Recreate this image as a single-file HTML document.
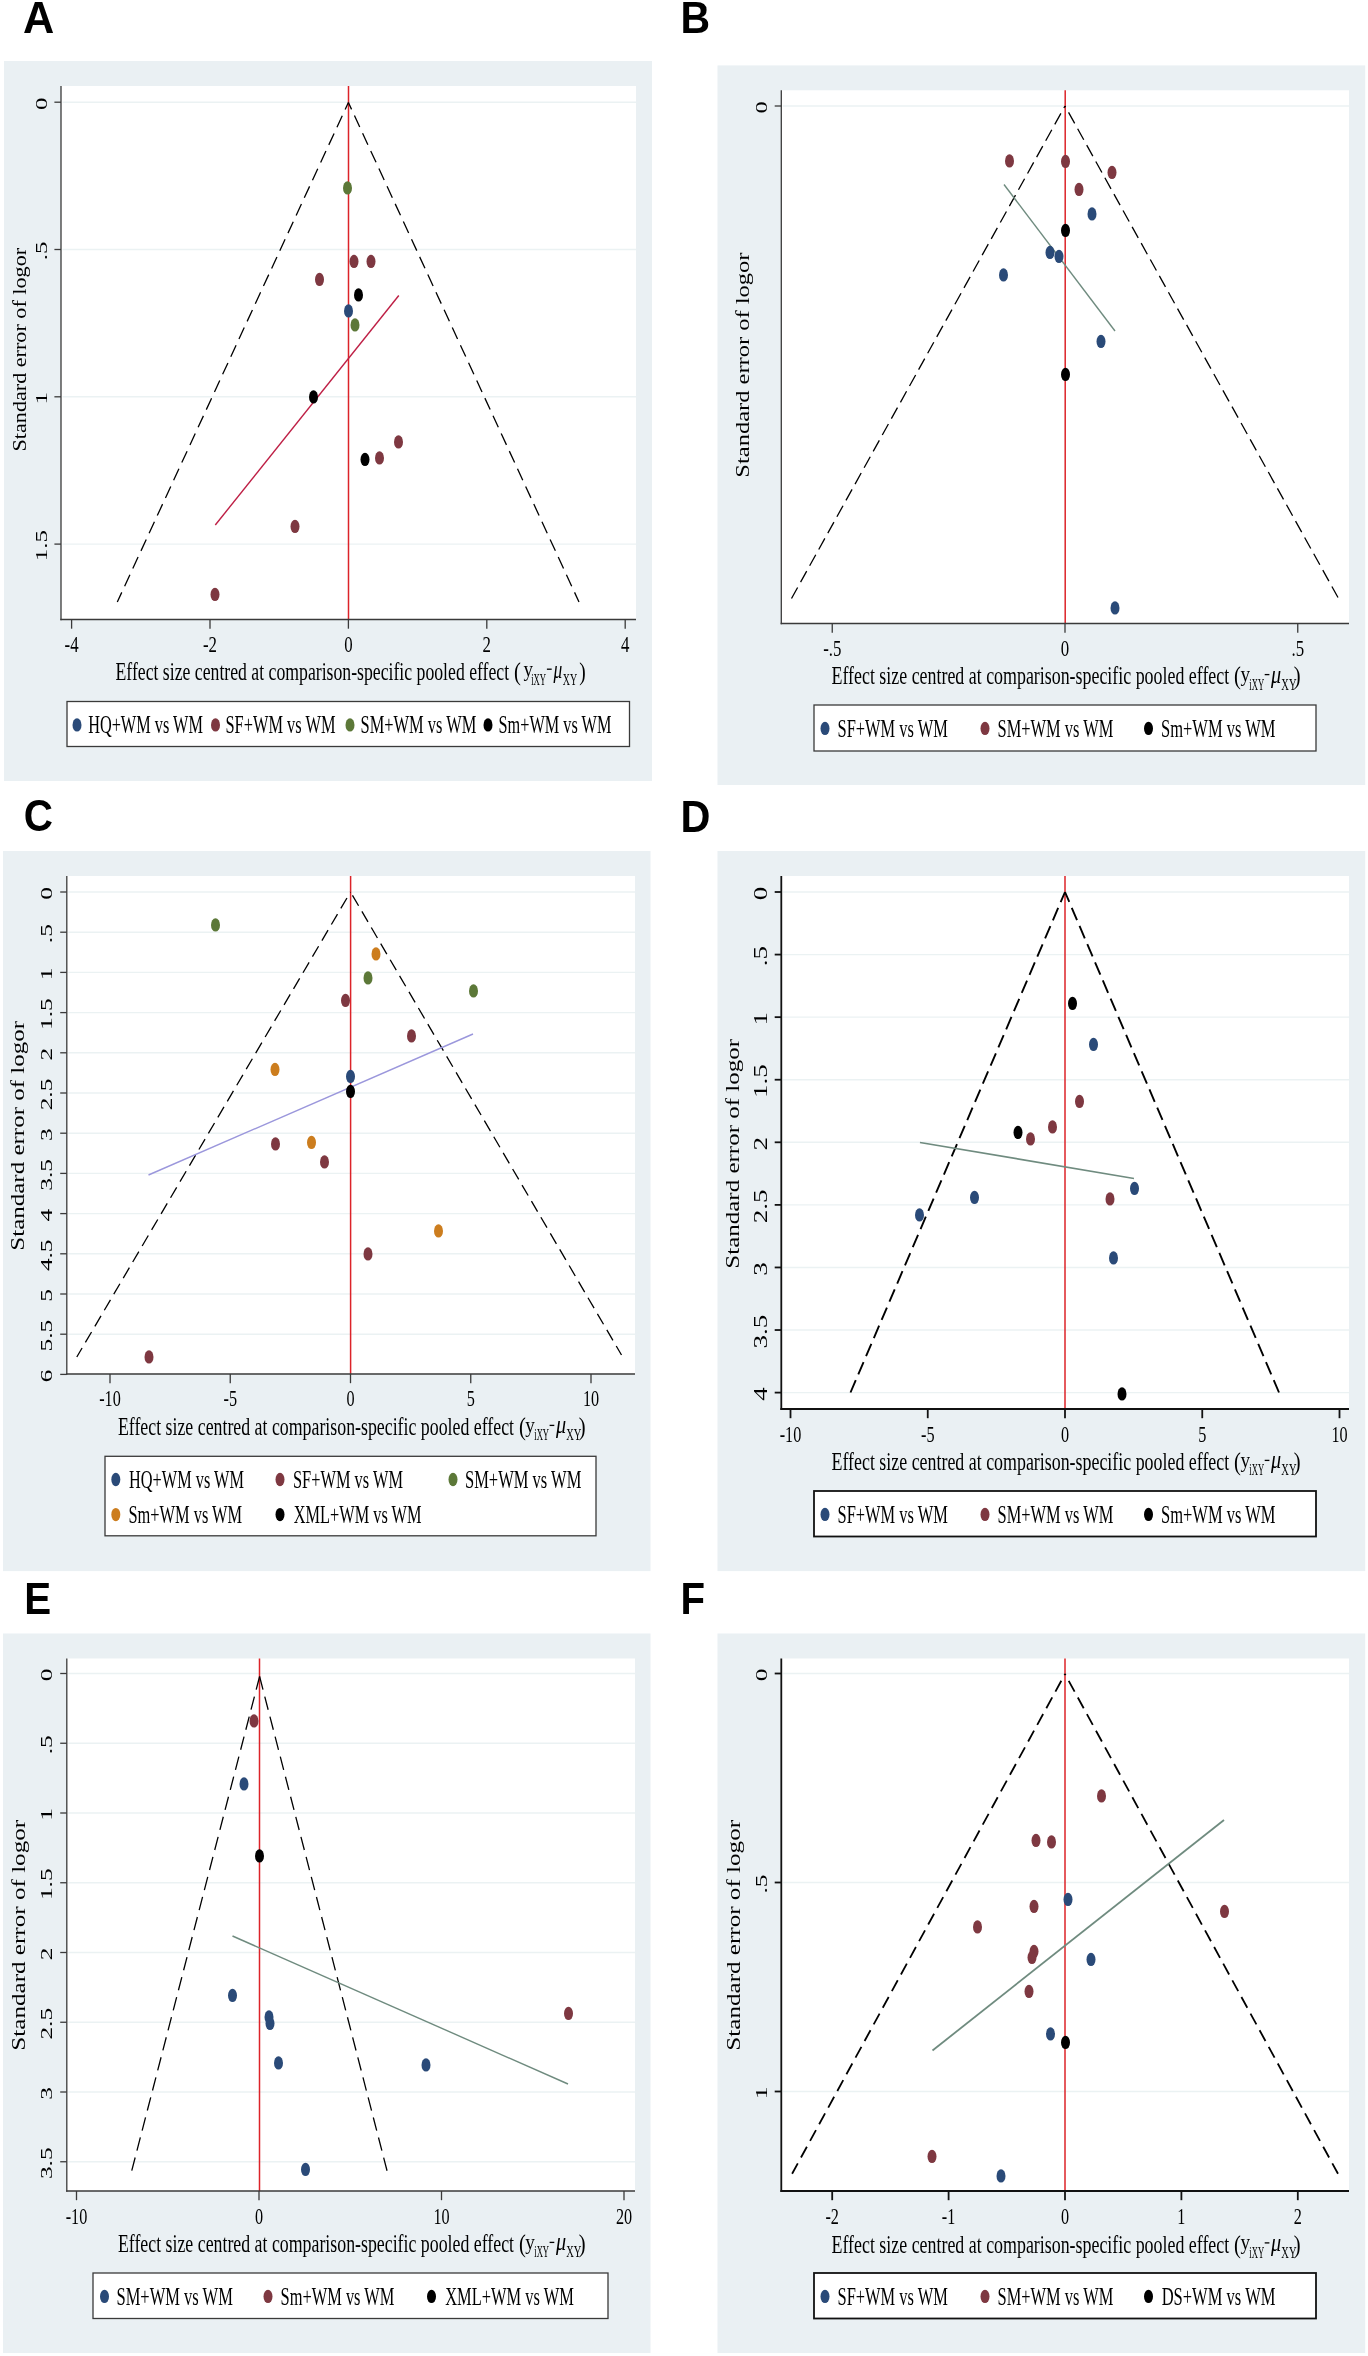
<!DOCTYPE html>
<html><head><meta charset="utf-8"><style>
html,body{margin:0;padding:0;background:#fff;}
svg{display:block;will-change:transform;}
text{font-family:"Liberation Serif",serif;}
</style></head><body>
<svg width="1368" height="2356" viewBox="0 0 1368 2356">
<rect width="1368" height="2356" fill="#fff"/>
<rect x="4" y="61" width="648" height="720" fill="#eaf0f3"/>
<rect x="61" y="86" width="575" height="533.5" fill="#fff"/>
<line x1="62.50" y1="102.20" x2="636.00" y2="102.20" stroke="#ebf2f3" stroke-width="1.4" stroke-linecap="butt"/>
<line x1="62.50" y1="249.50" x2="636.00" y2="249.50" stroke="#ebf2f3" stroke-width="1.4" stroke-linecap="butt"/>
<line x1="62.50" y1="396.80" x2="636.00" y2="396.80" stroke="#ebf2f3" stroke-width="1.4" stroke-linecap="butt"/>
<line x1="62.50" y1="544.10" x2="636.00" y2="544.10" stroke="#ebf2f3" stroke-width="1.4" stroke-linecap="butt"/>
<line x1="348.50" y1="86.00" x2="348.50" y2="619.50" stroke="#dc2329" stroke-width="1.5" stroke-linecap="butt"/>
<path d="M117.30,602.00 L348.40,102.50" stroke="#000" stroke-width="1.3" stroke-dasharray="12.6 6.85" stroke-dashoffset="2" fill="none"/>
<path d="M579.00,602.00 L348.40,102.50" stroke="#000" stroke-width="1.3" stroke-dasharray="12.6 6.85" stroke-dashoffset="2" fill="none"/>
<line x1="215.30" y1="525.00" x2="398.80" y2="295.50" stroke="#be1f45" stroke-width="1.4" stroke-linecap="butt"/>
<ellipse cx="347.50" cy="187.90" rx="4.5" ry="6.7" fill="#5c7838"/>
<ellipse cx="354.00" cy="261.40" rx="4.5" ry="6.7" fill="#7e3841"/>
<ellipse cx="371.00" cy="261.40" rx="4.5" ry="6.7" fill="#7e3841"/>
<ellipse cx="319.50" cy="279.40" rx="4.5" ry="6.7" fill="#7e3841"/>
<ellipse cx="358.50" cy="294.90" rx="4.5" ry="6.7" fill="#000000"/>
<ellipse cx="348.50" cy="310.90" rx="4.5" ry="6.7" fill="#2a4a78"/>
<ellipse cx="355.00" cy="324.90" rx="4.5" ry="6.7" fill="#5c7838"/>
<ellipse cx="313.50" cy="396.90" rx="4.5" ry="6.7" fill="#000000"/>
<ellipse cx="398.50" cy="441.90" rx="4.5" ry="6.7" fill="#7e3841"/>
<ellipse cx="379.50" cy="457.90" rx="4.5" ry="6.7" fill="#7e3841"/>
<ellipse cx="365.00" cy="459.40" rx="4.5" ry="6.7" fill="#000000"/>
<ellipse cx="295.00" cy="526.40" rx="4.5" ry="6.7" fill="#7e3841"/>
<ellipse cx="215.00" cy="594.40" rx="4.5" ry="6.7" fill="#7e3841"/>
<line x1="61.00" y1="86.00" x2="61.00" y2="620.15" stroke="#3a3a3a" stroke-width="1.3" stroke-linecap="butt"/>
<line x1="60.35" y1="619.50" x2="636.00" y2="619.50" stroke="#3a3a3a" stroke-width="1.3" stroke-linecap="butt"/>
<line x1="54.40" y1="102.20" x2="61.00" y2="102.20" stroke="#3a3a3a" stroke-width="1.3" stroke-linecap="butt"/>
<line x1="54.40" y1="249.50" x2="61.00" y2="249.50" stroke="#3a3a3a" stroke-width="1.3" stroke-linecap="butt"/>
<line x1="54.40" y1="396.80" x2="61.00" y2="396.80" stroke="#3a3a3a" stroke-width="1.3" stroke-linecap="butt"/>
<line x1="54.40" y1="544.10" x2="61.00" y2="544.10" stroke="#3a3a3a" stroke-width="1.3" stroke-linecap="butt"/>
<line x1="71.60" y1="619.50" x2="71.60" y2="628.70" stroke="#3a3a3a" stroke-width="1.3" stroke-linecap="butt"/>
<line x1="210.00" y1="619.50" x2="210.00" y2="628.70" stroke="#3a3a3a" stroke-width="1.3" stroke-linecap="butt"/>
<line x1="348.40" y1="619.50" x2="348.40" y2="628.70" stroke="#3a3a3a" stroke-width="1.3" stroke-linecap="butt"/>
<line x1="486.80" y1="619.50" x2="486.80" y2="628.70" stroke="#3a3a3a" stroke-width="1.3" stroke-linecap="butt"/>
<line x1="625.20" y1="619.50" x2="625.20" y2="628.70" stroke="#3a3a3a" stroke-width="1.3" stroke-linecap="butt"/>
<text transform="translate(47.00,109.91) rotate(-90) scale(1.4500,1)" font-size="17.14">0</text>
<text transform="translate(47.00,260.32) rotate(-90) scale(1.4500,1)" font-size="17.14">.5</text>
<text transform="translate(47.00,404.51) rotate(-90) scale(1.4500,1)" font-size="17.14">1</text>
<text transform="translate(47.00,561.14) rotate(-90) scale(1.4500,1)" font-size="17.14">1.5</text>
<text transform="translate(64.59,652.00) scale(0.7000,1)" font-size="24.06">-4</text>
<text transform="translate(202.99,652.00) scale(0.7000,1)" font-size="24.06">-2</text>
<text transform="translate(344.19,652.00) scale(0.7000,1)" font-size="24.06">0</text>
<text transform="translate(482.59,652.00) scale(0.7000,1)" font-size="24.06">2</text>
<text transform="translate(620.99,652.00) scale(0.7000,1)" font-size="24.06">4</text>
<text transform="translate(115.51,680.00) scale(0.7164,1)" font-size="24.73" style="font-family:'Liberation Serif'" fill="#000">Effect size centred at comparison-specific pooled effect</text>
<text transform="translate(514.03,680.08) scale(0.8376,1)" font-size="24.57" style="font-family:'Liberation Serif'">(</text>
<text transform="translate(523.46,675.88) scale(0.8830,1)" font-size="21.48" style="font-family:'Liberation Serif'">y</text>
<text transform="translate(531.13,685.30) scale(0.5148,1)" font-size="16.91" style="font-family:'Liberation Serif'">iXY</text>
<rect x="546.90" y="668.55" width="4.80" height="1.3" fill="#000"/>
<text transform="translate(553.50,678.46) scale(0.6768,1)" font-size="25.78" style="font-family:'Liberation Serif'" font-style="italic">μ</text>
<text transform="translate(562.67,685.30) scale(0.5859,1)" font-size="17.10" style="font-family:'Liberation Serif'">XY</text>
<text transform="translate(579.27,680.08) scale(0.7902,1)" font-size="24.57" style="font-family:'Liberation Serif'">)</text>
<text transform="translate(26.00,451.50) rotate(-90) scale(1.1801,1)" font-size="18.78">Standard error of logor</text>
<rect x="67" y="701.5" width="562.5" height="45.0" fill="#fff" stroke="#3a3a3a" stroke-width="1.3"/>
<ellipse cx="77.00" cy="724.90" rx="4.5" ry="6.7" fill="#2a4a78"/>
<text transform="translate(88.15,733.10) scale(0.6353,1)" font-size="25.65" style="font-family:'Liberation Serif'" fill="#000">HQ+WM vs WM</text>
<ellipse cx="215.50" cy="724.90" rx="4.5" ry="6.7" fill="#7e3841"/>
<text transform="translate(225.49,733.10) scale(0.6387,1)" font-size="25.65" style="font-family:'Liberation Serif'" fill="#000">SF+WM vs WM</text>
<ellipse cx="350.00" cy="724.90" rx="4.5" ry="6.7" fill="#5c7838"/>
<text transform="translate(360.49,733.10) scale(0.6418,1)" font-size="25.65" style="font-family:'Liberation Serif'" fill="#000">SM+WM vs WM</text>
<ellipse cx="488.00" cy="724.90" rx="4.5" ry="6.7" fill="#000000"/>
<text transform="translate(498.50,733.10) scale(0.6352,1)" font-size="25.65" style="font-family:'Liberation Serif'" fill="#000">Sm+WM vs WM</text>
<text transform="translate(22.92,33.10) scale(0.9662,1)" font-size="44.80" style="font-family:'Liberation Sans'" font-weight="bold">A</text>
<rect x="717.5" y="65.4" width="647.7" height="719.6" fill="#eaf0f3"/>
<rect x="781.3" y="90.3" width="567.7" height="533.2" fill="#fff"/>
<line x1="782.80" y1="106.00" x2="1349.00" y2="106.00" stroke="#ebf2f3" stroke-width="1.4" stroke-linecap="butt"/>
<line x1="1065.20" y1="90.30" x2="1065.20" y2="623.50" stroke="#dc2329" stroke-width="1.5" stroke-linecap="butt"/>
<path d="M791.50,598.50 L1065.00,106.00" stroke="#000" stroke-width="1.3" stroke-dasharray="12.6 6.1" stroke-dashoffset="0" fill="none"/>
<path d="M1338.00,597.50 L1065.00,106.00" stroke="#000" stroke-width="1.3" stroke-dasharray="12.6 6.1" stroke-dashoffset="0" fill="none"/>
<line x1="1004.00" y1="184.50" x2="1115.00" y2="331.00" stroke="#6f8b7f" stroke-width="1.4" stroke-linecap="butt"/>
<ellipse cx="1009.50" cy="160.90" rx="4.5" ry="6.7" fill="#7e3841"/>
<ellipse cx="1065.50" cy="161.40" rx="4.5" ry="6.7" fill="#7e3841"/>
<ellipse cx="1112.00" cy="172.40" rx="4.5" ry="6.7" fill="#7e3841"/>
<ellipse cx="1079.00" cy="189.40" rx="4.5" ry="6.7" fill="#7e3841"/>
<ellipse cx="1092.00" cy="213.90" rx="4.5" ry="6.7" fill="#2a4a78"/>
<ellipse cx="1065.50" cy="230.40" rx="4.5" ry="6.7" fill="#000000"/>
<ellipse cx="1050.00" cy="252.40" rx="4.5" ry="6.7" fill="#2a4a78"/>
<ellipse cx="1059.00" cy="256.40" rx="4.5" ry="6.7" fill="#2a4a78"/>
<ellipse cx="1003.50" cy="274.90" rx="4.5" ry="6.7" fill="#2a4a78"/>
<ellipse cx="1101.00" cy="341.40" rx="4.5" ry="6.7" fill="#2a4a78"/>
<ellipse cx="1065.50" cy="374.40" rx="4.5" ry="6.7" fill="#000000"/>
<ellipse cx="1115.00" cy="607.90" rx="4.5" ry="6.7" fill="#2a4a78"/>
<line x1="781.30" y1="90.30" x2="781.30" y2="624.15" stroke="#3a3a3a" stroke-width="1.3" stroke-linecap="butt"/>
<line x1="780.65" y1="623.50" x2="1349.00" y2="623.50" stroke="#3a3a3a" stroke-width="1.3" stroke-linecap="butt"/>
<line x1="774.70" y1="106.00" x2="781.30" y2="106.00" stroke="#3a3a3a" stroke-width="1.3" stroke-linecap="butt"/>
<line x1="832.25" y1="623.50" x2="832.25" y2="632.70" stroke="#3a3a3a" stroke-width="1.3" stroke-linecap="butt"/>
<line x1="1065.00" y1="623.50" x2="1065.00" y2="632.70" stroke="#3a3a3a" stroke-width="1.3" stroke-linecap="butt"/>
<line x1="1297.75" y1="623.50" x2="1297.75" y2="632.70" stroke="#3a3a3a" stroke-width="1.3" stroke-linecap="butt"/>
<text transform="translate(766.70,113.61) rotate(-90) scale(1.4500,1)" font-size="16.84">0</text>
<text transform="translate(823.13,656.00) scale(0.7000,1)" font-size="24.06">-.5</text>
<text transform="translate(1060.79,656.00) scale(0.7000,1)" font-size="24.06">0</text>
<text transform="translate(1291.43,656.00) scale(0.7000,1)" font-size="24.06">.5</text>
<text transform="translate(831.51,684.20) scale(0.7237,1)" font-size="24.73" style="font-family:'Liberation Serif'" fill="#000">Effect size centred at comparison-specific pooled effect</text>
<text transform="translate(1234.03,684.28) scale(0.8376,1)" font-size="24.57" style="font-family:'Liberation Serif'">(</text>
<text transform="translate(1240.46,680.91) scale(0.9180,1)" font-size="20.89" style="font-family:'Liberation Serif'">y</text>
<text transform="translate(1249.33,689.50) scale(0.5113,1)" font-size="16.91" style="font-family:'Liberation Serif'">iXY</text>
<rect x="1264.70" y="673.95" width="4.70" height="1.3" fill="#000"/>
<text transform="translate(1271.00,682.66) scale(0.7841,1)" font-size="25.78" style="font-family:'Liberation Serif'" font-style="italic">μ</text>
<text transform="translate(1281.36,689.50) scale(0.6152,1)" font-size="17.10" style="font-family:'Liberation Serif'">XY</text>
<text transform="translate(1293.83,684.28) scale(0.8376,1)" font-size="24.57" style="font-family:'Liberation Serif'">)</text>
<text transform="translate(749.30,477.66) rotate(-90) scale(1.2848,1)" font-size="19.08">Standard error of logor</text>
<rect x="814" y="705" width="502" height="46" fill="#fff" stroke="#3a3a3a" stroke-width="1.3"/>
<ellipse cx="825.00" cy="728.40" rx="4.5" ry="6.7" fill="#2a4a78"/>
<text transform="translate(837.49,736.60) scale(0.6416,1)" font-size="25.65" style="font-family:'Liberation Serif'" fill="#000">SF+WM vs WM</text>
<ellipse cx="985.00" cy="728.40" rx="4.5" ry="6.7" fill="#7e3841"/>
<text transform="translate(997.49,736.60) scale(0.6418,1)" font-size="25.65" style="font-family:'Liberation Serif'" fill="#000">SM+WM vs WM</text>
<ellipse cx="1148.50" cy="728.40" rx="4.5" ry="6.7" fill="#000000"/>
<text transform="translate(1160.99,736.60) scale(0.6438,1)" font-size="25.65" style="font-family:'Liberation Serif'" fill="#000">Sm+WM vs WM</text>
<text transform="translate(680.43,32.70) scale(0.9299,1)" font-size="44.07" style="font-family:'Liberation Sans'" font-weight="bold">B</text>
<rect x="3" y="851" width="647.5" height="720.0999999999999" fill="#eaf0f3"/>
<rect x="66.8" y="876" width="568.2" height="498" fill="#fff"/>
<line x1="68.30" y1="892.00" x2="635.00" y2="892.00" stroke="#ebf2f3" stroke-width="1.4" stroke-linecap="butt"/>
<line x1="68.30" y1="932.20" x2="635.00" y2="932.20" stroke="#ebf2f3" stroke-width="1.4" stroke-linecap="butt"/>
<line x1="68.30" y1="972.40" x2="635.00" y2="972.40" stroke="#ebf2f3" stroke-width="1.4" stroke-linecap="butt"/>
<line x1="68.30" y1="1012.60" x2="635.00" y2="1012.60" stroke="#ebf2f3" stroke-width="1.4" stroke-linecap="butt"/>
<line x1="68.30" y1="1052.80" x2="635.00" y2="1052.80" stroke="#ebf2f3" stroke-width="1.4" stroke-linecap="butt"/>
<line x1="68.30" y1="1093.00" x2="635.00" y2="1093.00" stroke="#ebf2f3" stroke-width="1.4" stroke-linecap="butt"/>
<line x1="68.30" y1="1133.20" x2="635.00" y2="1133.20" stroke="#ebf2f3" stroke-width="1.4" stroke-linecap="butt"/>
<line x1="68.30" y1="1173.40" x2="635.00" y2="1173.40" stroke="#ebf2f3" stroke-width="1.4" stroke-linecap="butt"/>
<line x1="68.30" y1="1213.60" x2="635.00" y2="1213.60" stroke="#ebf2f3" stroke-width="1.4" stroke-linecap="butt"/>
<line x1="68.30" y1="1253.80" x2="635.00" y2="1253.80" stroke="#ebf2f3" stroke-width="1.4" stroke-linecap="butt"/>
<line x1="68.30" y1="1294.00" x2="635.00" y2="1294.00" stroke="#ebf2f3" stroke-width="1.4" stroke-linecap="butt"/>
<line x1="68.30" y1="1334.20" x2="635.00" y2="1334.20" stroke="#ebf2f3" stroke-width="1.4" stroke-linecap="butt"/>
<line x1="68.30" y1="1374.40" x2="635.00" y2="1374.40" stroke="#ebf2f3" stroke-width="1.4" stroke-linecap="butt"/>
<line x1="350.60" y1="876.00" x2="350.60" y2="1374.00" stroke="#dc2329" stroke-width="1.5" stroke-linecap="butt"/>
<path d="M76.80,1357.00 L350.50,892.00" stroke="#000" stroke-width="1.3" stroke-dasharray="12.1 6.55" stroke-dashoffset="1.7" fill="none"/>
<path d="M621.50,1355.00 L350.50,892.00" stroke="#000" stroke-width="1.3" stroke-dasharray="12.1 6.55" stroke-dashoffset="1.7" fill="none"/>
<line x1="148.50" y1="1175.00" x2="473.00" y2="1034.00" stroke="#9b97dc" stroke-width="1.4" stroke-linecap="butt"/>
<ellipse cx="215.50" cy="924.90" rx="4.5" ry="6.7" fill="#5c7838"/>
<ellipse cx="376.00" cy="953.90" rx="4.5" ry="6.7" fill="#cc7d1e"/>
<ellipse cx="368.00" cy="977.90" rx="4.5" ry="6.7" fill="#5c7838"/>
<ellipse cx="473.50" cy="990.90" rx="4.5" ry="6.7" fill="#5c7838"/>
<ellipse cx="345.50" cy="1000.40" rx="4.5" ry="6.7" fill="#7e3841"/>
<ellipse cx="411.50" cy="1035.90" rx="4.5" ry="6.7" fill="#7e3841"/>
<ellipse cx="275.00" cy="1069.40" rx="4.5" ry="6.7" fill="#cc7d1e"/>
<ellipse cx="350.50" cy="1076.40" rx="4.5" ry="6.7" fill="#2a4a78"/>
<ellipse cx="350.50" cy="1091.40" rx="4.5" ry="6.7" fill="#000000"/>
<ellipse cx="275.50" cy="1143.90" rx="4.5" ry="6.7" fill="#7e3841"/>
<ellipse cx="311.50" cy="1142.40" rx="4.5" ry="6.7" fill="#cc7d1e"/>
<ellipse cx="324.50" cy="1161.90" rx="4.5" ry="6.7" fill="#7e3841"/>
<ellipse cx="368.00" cy="1253.90" rx="4.5" ry="6.7" fill="#7e3841"/>
<ellipse cx="438.50" cy="1230.90" rx="4.5" ry="6.7" fill="#cc7d1e"/>
<ellipse cx="149.00" cy="1356.90" rx="4.5" ry="6.7" fill="#7e3841"/>
<line x1="66.80" y1="876.00" x2="66.80" y2="1374.65" stroke="#3a3a3a" stroke-width="1.3" stroke-linecap="butt"/>
<line x1="66.15" y1="1374.00" x2="635.00" y2="1374.00" stroke="#3a3a3a" stroke-width="1.3" stroke-linecap="butt"/>
<line x1="60.20" y1="892.00" x2="66.80" y2="892.00" stroke="#3a3a3a" stroke-width="1.3" stroke-linecap="butt"/>
<line x1="60.20" y1="932.20" x2="66.80" y2="932.20" stroke="#3a3a3a" stroke-width="1.3" stroke-linecap="butt"/>
<line x1="60.20" y1="972.40" x2="66.80" y2="972.40" stroke="#3a3a3a" stroke-width="1.3" stroke-linecap="butt"/>
<line x1="60.20" y1="1012.60" x2="66.80" y2="1012.60" stroke="#3a3a3a" stroke-width="1.3" stroke-linecap="butt"/>
<line x1="60.20" y1="1052.80" x2="66.80" y2="1052.80" stroke="#3a3a3a" stroke-width="1.3" stroke-linecap="butt"/>
<line x1="60.20" y1="1093.00" x2="66.80" y2="1093.00" stroke="#3a3a3a" stroke-width="1.3" stroke-linecap="butt"/>
<line x1="60.20" y1="1133.20" x2="66.80" y2="1133.20" stroke="#3a3a3a" stroke-width="1.3" stroke-linecap="butt"/>
<line x1="60.20" y1="1173.40" x2="66.80" y2="1173.40" stroke="#3a3a3a" stroke-width="1.3" stroke-linecap="butt"/>
<line x1="60.20" y1="1213.60" x2="66.80" y2="1213.60" stroke="#3a3a3a" stroke-width="1.3" stroke-linecap="butt"/>
<line x1="60.20" y1="1253.80" x2="66.80" y2="1253.80" stroke="#3a3a3a" stroke-width="1.3" stroke-linecap="butt"/>
<line x1="60.20" y1="1294.00" x2="66.80" y2="1294.00" stroke="#3a3a3a" stroke-width="1.3" stroke-linecap="butt"/>
<line x1="60.20" y1="1334.20" x2="66.80" y2="1334.20" stroke="#3a3a3a" stroke-width="1.3" stroke-linecap="butt"/>
<line x1="60.20" y1="1374.40" x2="66.80" y2="1374.40" stroke="#3a3a3a" stroke-width="1.3" stroke-linecap="butt"/>
<line x1="110.00" y1="1374.00" x2="110.00" y2="1383.20" stroke="#3a3a3a" stroke-width="1.3" stroke-linecap="butt"/>
<line x1="230.25" y1="1374.00" x2="230.25" y2="1383.20" stroke="#3a3a3a" stroke-width="1.3" stroke-linecap="butt"/>
<line x1="350.50" y1="1374.00" x2="350.50" y2="1383.20" stroke="#3a3a3a" stroke-width="1.3" stroke-linecap="butt"/>
<line x1="470.75" y1="1374.00" x2="470.75" y2="1383.20" stroke="#3a3a3a" stroke-width="1.3" stroke-linecap="butt"/>
<line x1="591.00" y1="1374.00" x2="591.00" y2="1383.20" stroke="#3a3a3a" stroke-width="1.3" stroke-linecap="butt"/>
<text transform="translate(52.00,899.82) rotate(-90) scale(1.4500,1)" font-size="17.44">0</text>
<text transform="translate(52.00,943.18) rotate(-90) scale(1.4500,1)" font-size="17.44">.5</text>
<text transform="translate(52.00,980.22) rotate(-90) scale(1.4500,1)" font-size="17.44">1</text>
<text transform="translate(52.00,1029.91) rotate(-90) scale(1.4500,1)" font-size="17.44">1.5</text>
<text transform="translate(52.00,1060.62) rotate(-90) scale(1.4500,1)" font-size="17.44">2</text>
<text transform="translate(52.00,1110.31) rotate(-90) scale(1.4500,1)" font-size="17.44">2.5</text>
<text transform="translate(52.00,1141.02) rotate(-90) scale(1.4500,1)" font-size="17.44">3</text>
<text transform="translate(52.00,1190.71) rotate(-90) scale(1.4500,1)" font-size="17.44">3.5</text>
<text transform="translate(52.00,1221.42) rotate(-90) scale(1.4500,1)" font-size="17.44">4</text>
<text transform="translate(52.00,1271.11) rotate(-90) scale(1.4500,1)" font-size="17.44">4.5</text>
<text transform="translate(52.00,1301.82) rotate(-90) scale(1.4500,1)" font-size="17.44">5</text>
<text transform="translate(52.00,1351.51) rotate(-90) scale(1.4500,1)" font-size="17.44">5.5</text>
<text transform="translate(52.00,1382.22) rotate(-90) scale(1.4500,1)" font-size="17.44">6</text>
<text transform="translate(99.20,1406.30) scale(0.7000,1)" font-size="23.16">-10</text>
<text transform="translate(223.50,1406.30) scale(0.7000,1)" font-size="23.16">-5</text>
<text transform="translate(346.45,1406.30) scale(0.7000,1)" font-size="23.16">0</text>
<text transform="translate(466.70,1406.30) scale(0.7000,1)" font-size="23.16">5</text>
<text transform="translate(582.89,1406.30) scale(0.7000,1)" font-size="23.16">10</text>
<text transform="translate(117.91,1435.00) scale(0.7209,1)" font-size="24.73" style="font-family:'Liberation Serif'" fill="#000">Effect size centred at comparison-specific pooled effect</text>
<text transform="translate(518.93,1435.08) scale(0.8376,1)" font-size="24.57" style="font-family:'Liberation Serif'">(</text>
<text transform="translate(525.36,1431.71) scale(0.9180,1)" font-size="20.89" style="font-family:'Liberation Serif'">y</text>
<text transform="translate(534.23,1440.30) scale(0.5113,1)" font-size="16.91" style="font-family:'Liberation Serif'">iXY</text>
<rect x="549.60" y="1424.75" width="4.70" height="1.3" fill="#000"/>
<text transform="translate(555.90,1433.46) scale(0.7841,1)" font-size="25.78" style="font-family:'Liberation Serif'" font-style="italic">μ</text>
<text transform="translate(566.26,1440.30) scale(0.6152,1)" font-size="17.10" style="font-family:'Liberation Serif'">XY</text>
<text transform="translate(578.73,1435.08) scale(0.8376,1)" font-size="24.57" style="font-family:'Liberation Serif'">)</text>
<text transform="translate(24.40,1250.69) rotate(-90) scale(1.2800,1)" font-size="19.54">Standard error of logor</text>
<rect x="105" y="1456.3" width="491" height="79.5" fill="#fff" stroke="#3a3a3a" stroke-width="1.3"/>
<ellipse cx="115.80" cy="1479.50" rx="4.5" ry="6.7" fill="#2a4a78"/>
<text transform="translate(129.05,1487.70) scale(0.6359,1)" font-size="25.65" style="font-family:'Liberation Serif'" fill="#000">HQ+WM vs WM</text>
<ellipse cx="280.00" cy="1479.50" rx="4.5" ry="6.7" fill="#7e3841"/>
<text transform="translate(292.99,1487.70) scale(0.6387,1)" font-size="25.65" style="font-family:'Liberation Serif'" fill="#000">SF+WM vs WM</text>
<ellipse cx="453.00" cy="1479.50" rx="4.5" ry="6.7" fill="#5c7838"/>
<text transform="translate(464.98,1487.70) scale(0.6446,1)" font-size="25.65" style="font-family:'Liberation Serif'" fill="#000">SM+WM vs WM</text>
<ellipse cx="115.80" cy="1514.60" rx="4.5" ry="6.7" fill="#cc7d1e"/>
<text transform="translate(128.39,1522.80) scale(0.6403,1)" font-size="25.65" style="font-family:'Liberation Serif'" fill="#000">Sm+WM vs WM</text>
<ellipse cx="280.00" cy="1514.60" rx="4.5" ry="6.7" fill="#000000"/>
<text transform="translate(293.73,1522.80) scale(0.6366,1)" font-size="25.65" style="font-family:'Liberation Serif'" fill="#000">XML+WM vs WM</text>
<text transform="translate(23.78,831.46) scale(0.9263,1)" font-size="43.67" style="font-family:'Liberation Sans'" font-weight="bold">C</text>
<rect x="717.5" y="851" width="647.7" height="720.0999999999999" fill="#eaf0f3"/>
<rect x="781.3" y="876" width="567.7" height="533" fill="#fff"/>
<line x1="782.80" y1="892.00" x2="1349.00" y2="892.00" stroke="#ebf2f3" stroke-width="1.4" stroke-linecap="butt"/>
<line x1="782.80" y1="954.58" x2="1349.00" y2="954.58" stroke="#ebf2f3" stroke-width="1.4" stroke-linecap="butt"/>
<line x1="782.80" y1="1017.15" x2="1349.00" y2="1017.15" stroke="#ebf2f3" stroke-width="1.4" stroke-linecap="butt"/>
<line x1="782.80" y1="1079.72" x2="1349.00" y2="1079.72" stroke="#ebf2f3" stroke-width="1.4" stroke-linecap="butt"/>
<line x1="782.80" y1="1142.30" x2="1349.00" y2="1142.30" stroke="#ebf2f3" stroke-width="1.4" stroke-linecap="butt"/>
<line x1="782.80" y1="1204.88" x2="1349.00" y2="1204.88" stroke="#ebf2f3" stroke-width="1.4" stroke-linecap="butt"/>
<line x1="782.80" y1="1267.45" x2="1349.00" y2="1267.45" stroke="#ebf2f3" stroke-width="1.4" stroke-linecap="butt"/>
<line x1="782.80" y1="1330.03" x2="1349.00" y2="1330.03" stroke="#ebf2f3" stroke-width="1.4" stroke-linecap="butt"/>
<line x1="782.80" y1="1392.60" x2="1349.00" y2="1392.60" stroke="#ebf2f3" stroke-width="1.4" stroke-linecap="butt"/>
<line x1="1065.00" y1="876.00" x2="1065.00" y2="1409.00" stroke="#dc2329" stroke-width="1.5" stroke-linecap="butt"/>
<path d="M850.50,1392.50 L1065.00,892.00" stroke="#000" stroke-width="1.9" stroke-dasharray="13.4 6.36" stroke-dashoffset="0" fill="none"/>
<path d="M1279.00,1392.50 L1065.00,892.00" stroke="#000" stroke-width="1.9" stroke-dasharray="13.4 6.36" stroke-dashoffset="0" fill="none"/>
<line x1="920.00" y1="1142.50" x2="1134.00" y2="1178.50" stroke="#6f8b7f" stroke-width="1.7" stroke-linecap="butt"/>
<ellipse cx="1072.50" cy="1003.40" rx="4.5" ry="6.7" fill="#000000"/>
<ellipse cx="1093.50" cy="1044.40" rx="4.5" ry="6.7" fill="#2a4a78"/>
<ellipse cx="1079.50" cy="1101.40" rx="4.5" ry="6.7" fill="#7e3841"/>
<ellipse cx="1052.50" cy="1126.90" rx="4.5" ry="6.7" fill="#7e3841"/>
<ellipse cx="1018.00" cy="1132.40" rx="4.5" ry="6.7" fill="#000000"/>
<ellipse cx="1030.50" cy="1138.90" rx="4.5" ry="6.7" fill="#7e3841"/>
<ellipse cx="1134.50" cy="1188.40" rx="4.5" ry="6.7" fill="#2a4a78"/>
<ellipse cx="1110.00" cy="1198.90" rx="4.5" ry="6.7" fill="#7e3841"/>
<ellipse cx="974.50" cy="1197.40" rx="4.5" ry="6.7" fill="#2a4a78"/>
<ellipse cx="919.50" cy="1214.90" rx="4.5" ry="6.7" fill="#2a4a78"/>
<ellipse cx="1113.50" cy="1257.90" rx="4.5" ry="6.7" fill="#2a4a78"/>
<ellipse cx="1122.00" cy="1393.90" rx="4.5" ry="6.7" fill="#000000"/>
<line x1="781.30" y1="876.00" x2="781.30" y2="1409.90" stroke="#111" stroke-width="1.8" stroke-linecap="butt"/>
<line x1="780.40" y1="1409.00" x2="1349.00" y2="1409.00" stroke="#111" stroke-width="1.8" stroke-linecap="butt"/>
<line x1="774.70" y1="892.00" x2="781.30" y2="892.00" stroke="#111" stroke-width="1.8" stroke-linecap="butt"/>
<line x1="774.70" y1="954.58" x2="781.30" y2="954.58" stroke="#111" stroke-width="1.8" stroke-linecap="butt"/>
<line x1="774.70" y1="1017.15" x2="781.30" y2="1017.15" stroke="#111" stroke-width="1.8" stroke-linecap="butt"/>
<line x1="774.70" y1="1079.72" x2="781.30" y2="1079.72" stroke="#111" stroke-width="1.8" stroke-linecap="butt"/>
<line x1="774.70" y1="1142.30" x2="781.30" y2="1142.30" stroke="#111" stroke-width="1.8" stroke-linecap="butt"/>
<line x1="774.70" y1="1204.88" x2="781.30" y2="1204.88" stroke="#111" stroke-width="1.8" stroke-linecap="butt"/>
<line x1="774.70" y1="1267.45" x2="781.30" y2="1267.45" stroke="#111" stroke-width="1.8" stroke-linecap="butt"/>
<line x1="774.70" y1="1330.03" x2="781.30" y2="1330.03" stroke="#111" stroke-width="1.8" stroke-linecap="butt"/>
<line x1="774.70" y1="1392.60" x2="781.30" y2="1392.60" stroke="#111" stroke-width="1.8" stroke-linecap="butt"/>
<line x1="790.50" y1="1409.00" x2="790.50" y2="1418.20" stroke="#111" stroke-width="1.8" stroke-linecap="butt"/>
<line x1="927.75" y1="1409.00" x2="927.75" y2="1418.20" stroke="#111" stroke-width="1.8" stroke-linecap="butt"/>
<line x1="1065.00" y1="1409.00" x2="1065.00" y2="1418.20" stroke="#111" stroke-width="1.8" stroke-linecap="butt"/>
<line x1="1202.25" y1="1409.00" x2="1202.25" y2="1418.20" stroke="#111" stroke-width="1.8" stroke-linecap="butt"/>
<line x1="1339.50" y1="1409.00" x2="1339.50" y2="1418.20" stroke="#111" stroke-width="1.8" stroke-linecap="butt"/>
<text transform="translate(767.20,900.26) rotate(-90) scale(1.4500,1)" font-size="18.65">0</text>
<text transform="translate(767.20,966.21) rotate(-90) scale(1.4500,1)" font-size="18.65">.5</text>
<text transform="translate(767.20,1025.41) rotate(-90) scale(1.4500,1)" font-size="18.65">1</text>
<text transform="translate(767.20,1098.12) rotate(-90) scale(1.4500,1)" font-size="18.65">1.5</text>
<text transform="translate(767.20,1150.56) rotate(-90) scale(1.4500,1)" font-size="18.65">2</text>
<text transform="translate(767.20,1223.27) rotate(-90) scale(1.4500,1)" font-size="18.65">2.5</text>
<text transform="translate(767.20,1275.71) rotate(-90) scale(1.4500,1)" font-size="18.65">3</text>
<text transform="translate(767.20,1348.42) rotate(-90) scale(1.4500,1)" font-size="18.65">3.5</text>
<text transform="translate(767.20,1400.86) rotate(-90) scale(1.4500,1)" font-size="18.65">4</text>
<text transform="translate(779.70,1441.50) scale(0.7000,1)" font-size="23.16">-10</text>
<text transform="translate(921.00,1441.50) scale(0.7000,1)" font-size="23.16">-5</text>
<text transform="translate(1060.95,1441.50) scale(0.7000,1)" font-size="23.16">0</text>
<text transform="translate(1198.20,1441.50) scale(0.7000,1)" font-size="23.16">5</text>
<text transform="translate(1331.39,1441.50) scale(0.7000,1)" font-size="23.16">10</text>
<text transform="translate(831.51,1470.00) scale(0.7237,1)" font-size="24.73" style="font-family:'Liberation Serif'" fill="#000">Effect size centred at comparison-specific pooled effect</text>
<text transform="translate(1234.03,1470.08) scale(0.8376,1)" font-size="24.57" style="font-family:'Liberation Serif'">(</text>
<text transform="translate(1240.46,1466.71) scale(0.9180,1)" font-size="20.89" style="font-family:'Liberation Serif'">y</text>
<text transform="translate(1249.33,1475.30) scale(0.5113,1)" font-size="16.91" style="font-family:'Liberation Serif'">iXY</text>
<rect x="1264.70" y="1459.75" width="4.70" height="1.3" fill="#000"/>
<text transform="translate(1271.00,1468.46) scale(0.7841,1)" font-size="25.78" style="font-family:'Liberation Serif'" font-style="italic">μ</text>
<text transform="translate(1281.36,1475.30) scale(0.6152,1)" font-size="17.10" style="font-family:'Liberation Serif'">XY</text>
<text transform="translate(1293.83,1470.08) scale(0.8376,1)" font-size="24.57" style="font-family:'Liberation Serif'">)</text>
<text transform="translate(739.30,1268.69) rotate(-90) scale(1.3540,1)" font-size="18.47">Standard error of logor</text>
<rect x="814" y="1491" width="502" height="45.5" fill="#fff" stroke="#111" stroke-width="1.8"/>
<ellipse cx="825.00" cy="1514.40" rx="4.5" ry="6.7" fill="#2a4a78"/>
<text transform="translate(837.49,1522.60) scale(0.6416,1)" font-size="25.65" style="font-family:'Liberation Serif'" fill="#000">SF+WM vs WM</text>
<ellipse cx="985.00" cy="1514.40" rx="4.5" ry="6.7" fill="#7e3841"/>
<text transform="translate(997.49,1522.60) scale(0.6418,1)" font-size="25.65" style="font-family:'Liberation Serif'" fill="#000">SM+WM vs WM</text>
<ellipse cx="1148.50" cy="1514.40" rx="4.5" ry="6.7" fill="#000000"/>
<text transform="translate(1160.99,1522.60) scale(0.6438,1)" font-size="25.65" style="font-family:'Liberation Serif'" fill="#000">Sm+WM vs WM</text>
<text transform="translate(680.40,831.70) scale(0.9535,1)" font-size="43.49" style="font-family:'Liberation Sans'" font-weight="bold">D</text>
<rect x="3" y="1633.5" width="647.5" height="719.5" fill="#eaf0f3"/>
<rect x="66.8" y="1658.5" width="568.2" height="532.5" fill="#fff"/>
<line x1="68.30" y1="1673.50" x2="635.00" y2="1673.50" stroke="#ebf2f3" stroke-width="1.4" stroke-linecap="butt"/>
<line x1="68.30" y1="1743.25" x2="635.00" y2="1743.25" stroke="#ebf2f3" stroke-width="1.4" stroke-linecap="butt"/>
<line x1="68.30" y1="1813.00" x2="635.00" y2="1813.00" stroke="#ebf2f3" stroke-width="1.4" stroke-linecap="butt"/>
<line x1="68.30" y1="1882.75" x2="635.00" y2="1882.75" stroke="#ebf2f3" stroke-width="1.4" stroke-linecap="butt"/>
<line x1="68.30" y1="1952.50" x2="635.00" y2="1952.50" stroke="#ebf2f3" stroke-width="1.4" stroke-linecap="butt"/>
<line x1="68.30" y1="2022.25" x2="635.00" y2="2022.25" stroke="#ebf2f3" stroke-width="1.4" stroke-linecap="butt"/>
<line x1="68.30" y1="2092.00" x2="635.00" y2="2092.00" stroke="#ebf2f3" stroke-width="1.4" stroke-linecap="butt"/>
<line x1="68.30" y1="2161.75" x2="635.00" y2="2161.75" stroke="#ebf2f3" stroke-width="1.4" stroke-linecap="butt"/>
<line x1="259.50" y1="1658.50" x2="259.50" y2="2191.00" stroke="#dc2329" stroke-width="1.5" stroke-linecap="butt"/>
<path d="M259.60,1676.50 L130.50,2175.50" stroke="#000" stroke-width="1.3" stroke-dasharray="13.6 7.1" stroke-dashoffset="0" fill="none"/>
<path d="M259.60,1676.50 L387.50,2172.50" stroke="#000" stroke-width="1.3" stroke-dasharray="13.6 7.1" stroke-dashoffset="0" fill="none"/>
<line x1="232.50" y1="1936.00" x2="568.00" y2="2084.00" stroke="#6f8b7f" stroke-width="1.4" stroke-linecap="butt"/>
<ellipse cx="254.00" cy="1720.90" rx="4.5" ry="6.7" fill="#7e3841"/>
<ellipse cx="244.00" cy="1783.90" rx="4.5" ry="6.7" fill="#2a4a78"/>
<ellipse cx="259.50" cy="1855.90" rx="4.5" ry="6.7" fill="#000000"/>
<ellipse cx="232.50" cy="1995.40" rx="4.5" ry="6.7" fill="#2a4a78"/>
<ellipse cx="269.00" cy="2016.90" rx="4.5" ry="6.7" fill="#2a4a78"/>
<ellipse cx="270.00" cy="2023.40" rx="4.5" ry="6.7" fill="#2a4a78"/>
<ellipse cx="278.50" cy="2062.90" rx="4.5" ry="6.7" fill="#2a4a78"/>
<ellipse cx="426.00" cy="2064.90" rx="4.5" ry="6.7" fill="#2a4a78"/>
<ellipse cx="568.50" cy="2013.40" rx="4.5" ry="6.7" fill="#7e3841"/>
<ellipse cx="305.50" cy="2169.40" rx="4.5" ry="6.7" fill="#2a4a78"/>
<line x1="66.80" y1="1658.50" x2="66.80" y2="2191.65" stroke="#3a3a3a" stroke-width="1.3" stroke-linecap="butt"/>
<line x1="66.15" y1="2191.00" x2="635.00" y2="2191.00" stroke="#3a3a3a" stroke-width="1.3" stroke-linecap="butt"/>
<line x1="60.20" y1="1673.50" x2="66.80" y2="1673.50" stroke="#3a3a3a" stroke-width="1.3" stroke-linecap="butt"/>
<line x1="60.20" y1="1743.25" x2="66.80" y2="1743.25" stroke="#3a3a3a" stroke-width="1.3" stroke-linecap="butt"/>
<line x1="60.20" y1="1813.00" x2="66.80" y2="1813.00" stroke="#3a3a3a" stroke-width="1.3" stroke-linecap="butt"/>
<line x1="60.20" y1="1882.75" x2="66.80" y2="1882.75" stroke="#3a3a3a" stroke-width="1.3" stroke-linecap="butt"/>
<line x1="60.20" y1="1952.50" x2="66.80" y2="1952.50" stroke="#3a3a3a" stroke-width="1.3" stroke-linecap="butt"/>
<line x1="60.20" y1="2022.25" x2="66.80" y2="2022.25" stroke="#3a3a3a" stroke-width="1.3" stroke-linecap="butt"/>
<line x1="60.20" y1="2092.00" x2="66.80" y2="2092.00" stroke="#3a3a3a" stroke-width="1.3" stroke-linecap="butt"/>
<line x1="60.20" y1="2161.75" x2="66.80" y2="2161.75" stroke="#3a3a3a" stroke-width="1.3" stroke-linecap="butt"/>
<line x1="76.50" y1="2191.00" x2="76.50" y2="2200.20" stroke="#3a3a3a" stroke-width="1.3" stroke-linecap="butt"/>
<line x1="259.00" y1="2191.00" x2="259.00" y2="2200.20" stroke="#3a3a3a" stroke-width="1.3" stroke-linecap="butt"/>
<line x1="441.50" y1="2191.00" x2="441.50" y2="2200.20" stroke="#3a3a3a" stroke-width="1.3" stroke-linecap="butt"/>
<line x1="624.00" y1="2191.00" x2="624.00" y2="2200.20" stroke="#3a3a3a" stroke-width="1.3" stroke-linecap="butt"/>
<text transform="translate(52.00,1681.32) rotate(-90) scale(1.4500,1)" font-size="17.44">0</text>
<text transform="translate(52.00,1754.23) rotate(-90) scale(1.4500,1)" font-size="17.44">.5</text>
<text transform="translate(52.00,1820.82) rotate(-90) scale(1.4500,1)" font-size="17.44">1</text>
<text transform="translate(52.00,1900.06) rotate(-90) scale(1.4500,1)" font-size="17.44">1.5</text>
<text transform="translate(52.00,1960.32) rotate(-90) scale(1.4500,1)" font-size="17.44">2</text>
<text transform="translate(52.00,2039.56) rotate(-90) scale(1.4500,1)" font-size="17.44">2.5</text>
<text transform="translate(52.00,2099.82) rotate(-90) scale(1.4500,1)" font-size="17.44">3</text>
<text transform="translate(52.00,2179.06) rotate(-90) scale(1.4500,1)" font-size="17.44">3.5</text>
<text transform="translate(65.70,2223.50) scale(0.7000,1)" font-size="23.16">-10</text>
<text transform="translate(254.95,2223.50) scale(0.7000,1)" font-size="23.16">0</text>
<text transform="translate(433.39,2223.50) scale(0.7000,1)" font-size="23.16">10</text>
<text transform="translate(615.89,2223.50) scale(0.7000,1)" font-size="23.16">20</text>
<text transform="translate(117.91,2252.00) scale(0.7209,1)" font-size="24.73" style="font-family:'Liberation Serif'" fill="#000">Effect size centred at comparison-specific pooled effect</text>
<text transform="translate(518.93,2252.08) scale(0.8376,1)" font-size="24.57" style="font-family:'Liberation Serif'">(</text>
<text transform="translate(525.36,2248.71) scale(0.9180,1)" font-size="20.89" style="font-family:'Liberation Serif'">y</text>
<text transform="translate(534.23,2257.30) scale(0.5113,1)" font-size="16.91" style="font-family:'Liberation Serif'">iXY</text>
<rect x="549.60" y="2241.75" width="4.70" height="1.3" fill="#000"/>
<text transform="translate(555.90,2250.46) scale(0.7841,1)" font-size="25.78" style="font-family:'Liberation Serif'" font-style="italic">μ</text>
<text transform="translate(566.26,2257.30) scale(0.6152,1)" font-size="17.10" style="font-family:'Liberation Serif'">XY</text>
<text transform="translate(578.73,2252.08) scale(0.8376,1)" font-size="24.57" style="font-family:'Liberation Serif'">)</text>
<text transform="translate(24.60,2050.70) rotate(-90) scale(1.3379,1)" font-size="18.78">Standard error of logor</text>
<rect x="93" y="2273" width="515" height="45.5" fill="#fff" stroke="#3a3a3a" stroke-width="1.3"/>
<ellipse cx="104.50" cy="2296.40" rx="4.5" ry="6.7" fill="#2a4a78"/>
<text transform="translate(116.48,2304.60) scale(0.6446,1)" font-size="25.65" style="font-family:'Liberation Serif'" fill="#000">SM+WM vs WM</text>
<ellipse cx="268.00" cy="2296.40" rx="4.5" ry="6.7" fill="#7e3841"/>
<text transform="translate(280.49,2304.60) scale(0.6409,1)" font-size="25.65" style="font-family:'Liberation Serif'" fill="#000">Sm+WM vs WM</text>
<ellipse cx="431.50" cy="2296.40" rx="4.5" ry="6.7" fill="#000000"/>
<text transform="translate(445.23,2304.60) scale(0.6416,1)" font-size="25.65" style="font-family:'Liberation Serif'" fill="#000">XML+WM vs WM</text>
<text transform="translate(24.18,1614.30) scale(0.9279,1)" font-size="43.49" style="font-family:'Liberation Sans'" font-weight="bold">E</text>
<rect x="717.5" y="1633.5" width="647.7" height="719.5" fill="#eaf0f3"/>
<rect x="781.3" y="1658.5" width="567.7" height="532.5" fill="#fff"/>
<line x1="782.80" y1="1673.50" x2="1349.00" y2="1673.50" stroke="#ebf2f3" stroke-width="1.4" stroke-linecap="butt"/>
<line x1="782.80" y1="1882.50" x2="1349.00" y2="1882.50" stroke="#ebf2f3" stroke-width="1.4" stroke-linecap="butt"/>
<line x1="782.80" y1="2091.50" x2="1349.00" y2="2091.50" stroke="#ebf2f3" stroke-width="1.4" stroke-linecap="butt"/>
<line x1="1065.00" y1="1658.50" x2="1065.00" y2="2191.00" stroke="#dc2329" stroke-width="1.5" stroke-linecap="butt"/>
<path d="M792.10,2173.80 L1065.00,1674.00" stroke="#000" stroke-width="1.8" stroke-dasharray="12.3 6.66" stroke-dashoffset="0.4" fill="none"/>
<path d="M1338.00,2173.80 L1065.00,1674.00" stroke="#000" stroke-width="1.8" stroke-dasharray="12.3 6.66" stroke-dashoffset="0.4" fill="none"/>
<line x1="932.50" y1="2050.50" x2="1224.00" y2="1820.00" stroke="#6f8b7f" stroke-width="1.8" stroke-linecap="butt"/>
<ellipse cx="1101.50" cy="1795.90" rx="4.5" ry="6.7" fill="#7e3841"/>
<ellipse cx="1036.00" cy="1840.40" rx="4.5" ry="6.7" fill="#7e3841"/>
<ellipse cx="1051.50" cy="1841.90" rx="4.5" ry="6.7" fill="#7e3841"/>
<ellipse cx="1068.00" cy="1899.40" rx="4.5" ry="6.7" fill="#2a4a78"/>
<ellipse cx="1034.00" cy="1906.40" rx="4.5" ry="6.7" fill="#7e3841"/>
<ellipse cx="1224.50" cy="1911.40" rx="4.5" ry="6.7" fill="#7e3841"/>
<ellipse cx="977.50" cy="1926.90" rx="4.5" ry="6.7" fill="#7e3841"/>
<ellipse cx="1034.00" cy="1951.40" rx="4.5" ry="6.7" fill="#7e3841"/>
<ellipse cx="1032.00" cy="1957.40" rx="4.5" ry="6.7" fill="#7e3841"/>
<ellipse cx="1091.00" cy="1959.40" rx="4.5" ry="6.7" fill="#2a4a78"/>
<ellipse cx="1029.00" cy="1991.40" rx="4.5" ry="6.7" fill="#7e3841"/>
<ellipse cx="1050.50" cy="2033.90" rx="4.5" ry="6.7" fill="#2a4a78"/>
<ellipse cx="1065.50" cy="2042.40" rx="4.5" ry="6.7" fill="#000000"/>
<ellipse cx="932.00" cy="2156.40" rx="4.5" ry="6.7" fill="#7e3841"/>
<ellipse cx="1001.00" cy="2175.90" rx="4.5" ry="6.7" fill="#2a4a78"/>
<line x1="781.30" y1="1658.50" x2="781.30" y2="2191.90" stroke="#111" stroke-width="1.8" stroke-linecap="butt"/>
<line x1="780.40" y1="2191.00" x2="1349.00" y2="2191.00" stroke="#111" stroke-width="1.8" stroke-linecap="butt"/>
<line x1="774.70" y1="1673.50" x2="781.30" y2="1673.50" stroke="#111" stroke-width="1.8" stroke-linecap="butt"/>
<line x1="774.70" y1="1882.50" x2="781.30" y2="1882.50" stroke="#111" stroke-width="1.8" stroke-linecap="butt"/>
<line x1="774.70" y1="2091.50" x2="781.30" y2="2091.50" stroke="#111" stroke-width="1.8" stroke-linecap="butt"/>
<line x1="832.20" y1="2191.00" x2="832.20" y2="2200.20" stroke="#111" stroke-width="1.8" stroke-linecap="butt"/>
<line x1="948.60" y1="2191.00" x2="948.60" y2="2200.20" stroke="#111" stroke-width="1.8" stroke-linecap="butt"/>
<line x1="1065.00" y1="2191.00" x2="1065.00" y2="2200.20" stroke="#111" stroke-width="1.8" stroke-linecap="butt"/>
<line x1="1181.40" y1="2191.00" x2="1181.40" y2="2200.20" stroke="#111" stroke-width="1.8" stroke-linecap="butt"/>
<line x1="1297.80" y1="2191.00" x2="1297.80" y2="2200.20" stroke="#111" stroke-width="1.8" stroke-linecap="butt"/>
<text transform="translate(766.70,1681.32) rotate(-90) scale(1.4500,1)" font-size="17.44">0</text>
<text transform="translate(766.70,1893.48) rotate(-90) scale(1.4500,1)" font-size="17.44">.5</text>
<text transform="translate(766.70,2099.32) rotate(-90) scale(1.4500,1)" font-size="17.44">1</text>
<text transform="translate(825.45,2223.50) scale(0.7000,1)" font-size="23.16">-2</text>
<text transform="translate(941.85,2223.50) scale(0.7000,1)" font-size="23.16">-1</text>
<text transform="translate(1060.95,2223.50) scale(0.7000,1)" font-size="23.16">0</text>
<text transform="translate(1177.35,2223.50) scale(0.7000,1)" font-size="23.16">1</text>
<text transform="translate(1293.75,2223.50) scale(0.7000,1)" font-size="23.16">2</text>
<text transform="translate(831.51,2252.50) scale(0.7237,1)" font-size="24.73" style="font-family:'Liberation Serif'" fill="#000">Effect size centred at comparison-specific pooled effect</text>
<text transform="translate(1234.03,2252.58) scale(0.8376,1)" font-size="24.57" style="font-family:'Liberation Serif'">(</text>
<text transform="translate(1240.46,2249.21) scale(0.9180,1)" font-size="20.89" style="font-family:'Liberation Serif'">y</text>
<text transform="translate(1249.33,2257.80) scale(0.5113,1)" font-size="16.91" style="font-family:'Liberation Serif'">iXY</text>
<rect x="1264.70" y="2242.25" width="4.70" height="1.3" fill="#000"/>
<text transform="translate(1271.00,2250.96) scale(0.7841,1)" font-size="25.78" style="font-family:'Liberation Serif'" font-style="italic">μ</text>
<text transform="translate(1281.36,2257.80) scale(0.6152,1)" font-size="17.10" style="font-family:'Liberation Serif'">XY</text>
<text transform="translate(1293.83,2252.58) scale(0.8376,1)" font-size="24.57" style="font-family:'Liberation Serif'">)</text>
<text transform="translate(740.00,2050.70) rotate(-90) scale(1.4065,1)" font-size="17.86">Standard error of logor</text>
<rect x="814" y="2273" width="502" height="45.5" fill="#fff" stroke="#111" stroke-width="1.8"/>
<ellipse cx="825.00" cy="2296.40" rx="4.5" ry="6.7" fill="#2a4a78"/>
<text transform="translate(837.49,2304.60) scale(0.6416,1)" font-size="25.65" style="font-family:'Liberation Serif'" fill="#000">SF+WM vs WM</text>
<ellipse cx="985.00" cy="2296.40" rx="4.5" ry="6.7" fill="#7e3841"/>
<text transform="translate(997.49,2304.60) scale(0.6418,1)" font-size="25.65" style="font-family:'Liberation Serif'" fill="#000">SM+WM vs WM</text>
<ellipse cx="1148.50" cy="2296.40" rx="4.5" ry="6.7" fill="#000000"/>
<text transform="translate(1161.64,2304.60) scale(0.6452,1)" font-size="25.65" style="font-family:'Liberation Serif'" fill="#000">DS+WM vs WM</text>
<text transform="translate(680.49,1614.30) scale(0.9243,1)" font-size="43.49" style="font-family:'Liberation Sans'" font-weight="bold">F</text>
</svg></body></html>
